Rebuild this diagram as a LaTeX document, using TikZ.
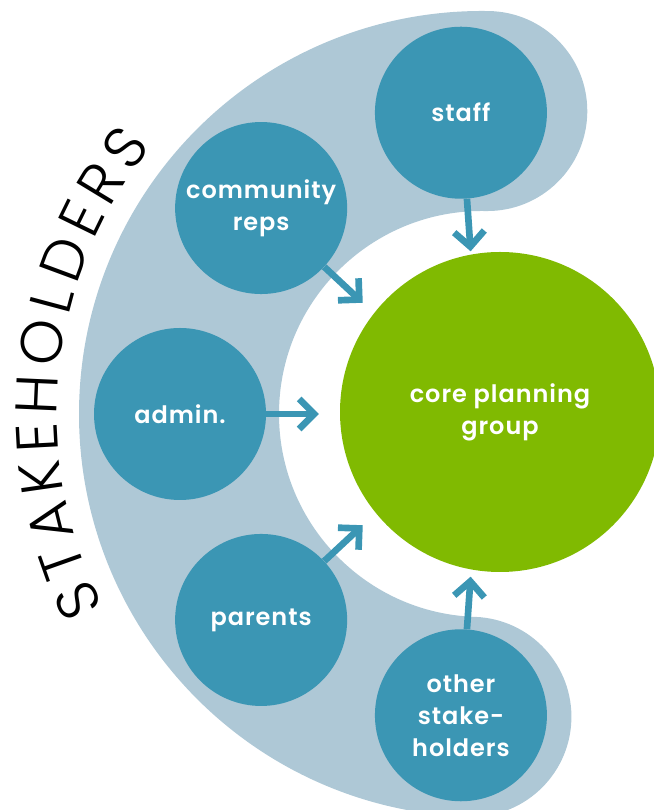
\documentclass[tikz,border=0pt]{standalone}
\usepackage{fontspec}
\setmainfont{Poppins}[BoldFont={* SemiBold}, LetterSpace=4]
\newfontfamily\thinfont{Poppins}[UprightFont={* Light}]
\usetikzlibrary{arrows.meta, calc, decorations.text}
\definecolor{bandblue}{HTML}{AEC8D6}
\definecolor{stkteal}{HTML}{3B96B4}
\definecolor{coregreen}{HTML}{80BA01}

\begin{document}
\begin{tikzpicture}[
  x=0.75pt, y=0.75pt,
  >={Straight Barb[angle=90:16pt, line cap=butt, line join=miter]},
  stake/.style={
    circle, fill=stkteal, minimum size=129pt, inner sep=0pt,
    text=white, align=center, font=\bfseries\fontsize{18pt}{24pt}\selectfont
  },
  inarrow/.style={->, draw=stkteal, line width=5pt},
]

\useasboundingbox (0,0) rectangle (653,810);
\coordinate (hub) at (482,396);

% Band behind the stakeholder circles
\draw[bandblue, line width=150pt, line cap=round]
  (hub) ++(89:303) arc[start angle=89, end angle=268, radius=303];

% Core group
\node[circle, fill=coregreen, minimum size=240pt, inner sep=0pt,
      text=white, align=center, font=\bfseries\fontsize{18pt}{24pt}\selectfont]
  (core) at (500,398) {core planning\\group};

% =============================================
% Stakeholder circles and their arrows
% =============================================
\foreach \ang/\nm/\txt in {94/staff/staff, 137/community/{community\\reps},
    180/admin/admin., 223/parents/parents, 266/others/{other\\stake-\\holders}} {
  \node[stake] (\nm) at ($(hub)+(\ang:302)$) {\txt};
}
\foreach \nm in {staff, community, admin, parents, others} {
  \draw[inarrow] (\nm) -- ($(hub)!0.54!(\nm)$);
}

% Curved title
\path[decorate, decoration={text along path, text align={fit to path},
    text={|\thinfont\fontsize{44pt}{44pt}\selectfont|STAKEHOLDERS}}]
  (hub) ++(207:425) arc[start angle=207, end angle=141, radius=425];

\end{tikzpicture}
\end{document}
